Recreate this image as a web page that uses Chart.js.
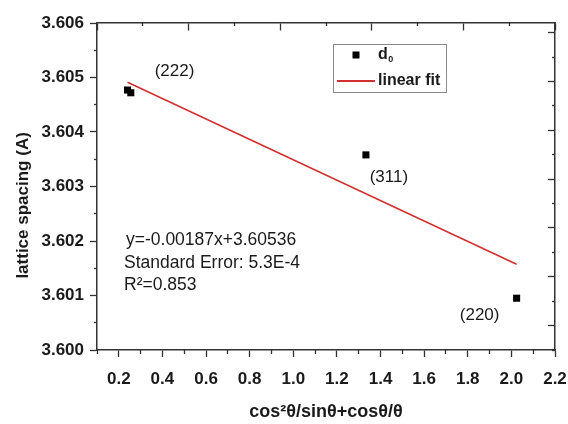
<!DOCTYPE html>
<html>
<head>
<meta charset="utf-8">
<script src="https://cdn.jsdelivr.net/npm/chart.js@4.4.1/dist/chart.umd.min.js"></script>
<style>
  html, body { margin: 0; padding: 0; background: #fff; }
  #wrap { width: 568px; height: 424px; position: relative; }
</style>
</head>
<body>
<div id="wrap"><canvas id="chart"></canvas></div>
<script>
const FONT = "'Liberation Sans', Arial, Helvetica, sans-serif";

// Lattice spacing d0 against cos²θ/sinθ + cosθ/θ for each reflection
const xValues = [0.24, 0.255, 1.333, 2.024];
const dValues = [3.60477, 3.60472, 3.60358, 3.60095];
const peakLabels = ['(222)', '', '(311)', '(220)'];

// Linear fit result
const fitSlope = -0.00187;
const fitIntercept = 3.60536;
const fitStdError = '5.3E-4';
const fitR2 = '0.853';

// Axis ticks
const xTickValues = [0.2, 0.4, 0.6, 0.8, 1.0, 1.2, 1.4, 1.6, 1.8, 2.0, 2.2];
const xMinorValues = [0.1, 0.3, 0.5, 0.7, 0.9, 1.1, 1.3, 1.5, 1.7, 1.9, 2.1];
const yTickValues = [3.600, 3.601, 3.602, 3.603, 3.604, 3.605, 3.606];
const yMinorValues = [3.6005, 3.6015, 3.6025, 3.6035, 3.6045, 3.6055];
const topMajor = [0, 2, 4, 6, 8, 10];
const topMinor = [1, 3, 5, 7, 9];
const rightMajor = [1, 3, 5, 7, 9, 11, 13];
const rightMinor = [0, 2, 4, 6, 8, 10, 12];

const X_MIN = 0.1, X_MAX = 2.2, Y_MIN = 3.600, Y_MAX = 3.606;
const AXIS = '#333333';
const TEXT = '#1a1a1a';
const FIT_RED = '#d23030';

const fitStart = Math.min(...xValues);
const fitEnd = Math.max(...xValues);
const fitPoints = [
  { x: fitStart, y: fitIntercept + fitSlope * fitStart },
  { x: fitEnd, y: fitIntercept + fitSlope * fitEnd }
];

const setTicks = values => scale => { scale.ticks = values.map(v => ({ value: v })); };

// Tick-only axis laid over a chart edge; takes no layout space
function edgeAxis(axisPos, min, max, values, tickLength, showBorder) {
  return {
    type: 'linear',
    position: axisPos,
    min: min,
    max: max,
    afterBuildTicks: setTicks(values),
    afterFit: s => {
      if (s.isHorizontal()) { s.height = 0; } else { s.width = 0; }
      s.paddingLeft = s.paddingRight = s.paddingTop = s.paddingBottom = 0;
    },
    ticks: { display: false },
    grid: { drawOnChartArea: false, tickLength: tickLength, tickColor: AXIS, tickWidth: 1.3 },
    border: { display: showBorder, color: AXIS, width: 1.5 }
  };
}

// Peak labels, fit statistics and the boxed legend
const annotations = {
  id: 'annotations',
  afterDatasetsDraw(chart) {
    const ctx = chart.ctx;
    const area = chart.chartArea;
    const meta = chart.getDatasetMeta(0);
    const offsets = { '(222)': [47, -19], '(311)': [23, 22], '(220)': [-37, 17] };
    ctx.save();
    ctx.fillStyle = TEXT;
    ctx.font = '17px ' + FONT;
    ctx.textAlign = 'center';
    ctx.textBaseline = 'middle';
    peakLabels.forEach((lab, i) => {
      if (!lab) return;
      const p = meta.data[i];
      const o = offsets[lab];
      ctx.fillText(lab, p.x + o[0], p.y + o[1]);
    });

    // fit statistics
    ctx.textAlign = 'left';
    ctx.font = '17.5px ' + FONT;
    const ex = area.left + 27;
    const ey = area.top + 217;
    ctx.fillText('y=' + fitSlope + 'x+' + fitIntercept, ex + 2, ey);
    ctx.fillText('Standard Error: ' + fitStdError, ex, ey + 23);
    ctx.fillText('R\u00B2=' + fitR2, ex, ey + 45);

    // legend
    const lx = area.left + 236, ly = area.top + 21, lw = 113, lh = 48;
    ctx.strokeStyle = '#8a8a8a';
    ctx.lineWidth = 1;
    ctx.strokeRect(lx + 0.5, ly + 0.5, lw, lh);
    const ds0 = chart.data.datasets[0], ds1 = chart.data.datasets[1];
    ctx.fillStyle = ds0.pointBackgroundColor;
    ctx.beginPath();
    ctx.rect(lx + 23 - 3.5, ly + 11 - 3.5, 7, 7);
    ctx.fill();
    ctx.fillStyle = TEXT;
    ctx.font = 'bold 16px ' + FONT;
    ctx.fillText(ds0.label, lx + 45, ly + 11);
    const dw = ctx.measureText(ds0.label).width;
    ctx.font = 'bold 9px ' + FONT;
    ctx.fillText(ds0.labelSub, lx + 45 + dw + 0.5, ly + 16);
    ctx.strokeStyle = ds1.borderColor;
    ctx.lineWidth = 2;
    ctx.beginPath();
    ctx.moveTo(lx + 4, ly + 37);
    ctx.lineTo(lx + 42, ly + 37);
    ctx.stroke();
    ctx.font = 'bold 16px ' + FONT;
    ctx.fillText(ds1.label, lx + 45, ly + 37);
    ctx.restore();
  }
};

new Chart(document.getElementById('chart'), {
  type: 'scatter',
  data: {
    datasets: [
      {
        label: 'd',
        labelSub: '0',
        data: xValues.map((x, i) => ({ x: x, y: dValues[i] })),
        pointStyle: 'rect',
        pointRadius: 5,
        pointHoverRadius: 5,
        pointBackgroundColor: '#000',
        pointBorderWidth: 0,
        showLine: false
      },
      {
        label: 'linear fit',
        data: fitPoints,
        showLine: true,
        borderColor: FIT_RED,
        borderWidth: 1.6,
        pointRadius: 0,
        pointHoverRadius: 0,
        fill: false
      }
    ]
  },
  options: {
    responsive: true,
    maintainAspectRatio: false,
    animation: false,
    events: [],
    layout: { padding: { left: 0, right: 13, top: 23, bottom: 0 } },
    plugins: { legend: { display: false }, tooltip: { enabled: false } },
    scales: {
      x: {
        type: 'linear',
        position: 'bottom',
        min: X_MIN,
        max: X_MAX,
        afterBuildTicks: setTicks(xTickValues),
        afterFit: s => { s.height = 74; s.paddingLeft = 0; s.paddingRight = 0; },
        ticks: {
          autoSkip: false, maxRotation: 0, padding: 12, color: TEXT,
          font: { family: FONT, size: 17, weight: 'bold' },
          callback: v => Number(v).toFixed(1)
        },
        grid: { drawOnChartArea: false, tickLength: 7, tickColor: AXIS, tickWidth: 1.3 },
        border: { color: AXIS, width: 1.5 },
        title: {
          display: true,
          text: 'cos\u00B2\u03B8/sin\u03B8+cos\u03B8/\u03B8',
          color: TEXT,
          font: { family: FONT, size: 18, weight: 'bold' },
          padding: { top: 0, bottom: 1 }
        }
      },
      xMinor: edgeAxis({ y: Y_MIN }, X_MIN, X_MAX, xMinorValues, 4, false),
      y: {
        type: 'linear',
        position: 'left',
        min: Y_MIN,
        max: Y_MAX,
        afterBuildTicks: setTicks(yTickValues),
        afterFit: s => { s.width = 97; s.paddingTop = 0; s.paddingBottom = 0; },
        ticks: {
          autoSkip: false, padding: 6, color: TEXT,
          font: { family: FONT, size: 17, weight: 'bold' },
          callback: v => Number(v).toFixed(3)
        },
        grid: { drawOnChartArea: false, tickLength: 7, tickColor: AXIS, tickWidth: 1.3 },
        border: { color: AXIS, width: 1.5 },
        title: {
          display: true,
          text: 'lattice spacing (A)' + '\u00A0'.repeat(8),
          color: TEXT,
          font: { family: FONT, size: 17, weight: 'bold' },
          padding: { top: 13, bottom: 0 }
        }
      },
      yMinor: edgeAxis({ x: X_MIN }, Y_MIN, Y_MAX, yMinorValues, 3, false),
      xTop: edgeAxis({ y: Y_MAX }, 0, 10, topMajor, 7, true),
      xTopMinor: edgeAxis({ y: Y_MAX }, 0, 10, topMinor, 3, false),
      yRight: edgeAxis({ x: X_MAX }, 0, 13.4, rightMajor, 6, true),
      yRightMinor: edgeAxis({ x: X_MAX }, 0, 13.4, rightMinor, 3, false)
    }
  },
  plugins: [annotations]
});
</script>
</body>
</html>
